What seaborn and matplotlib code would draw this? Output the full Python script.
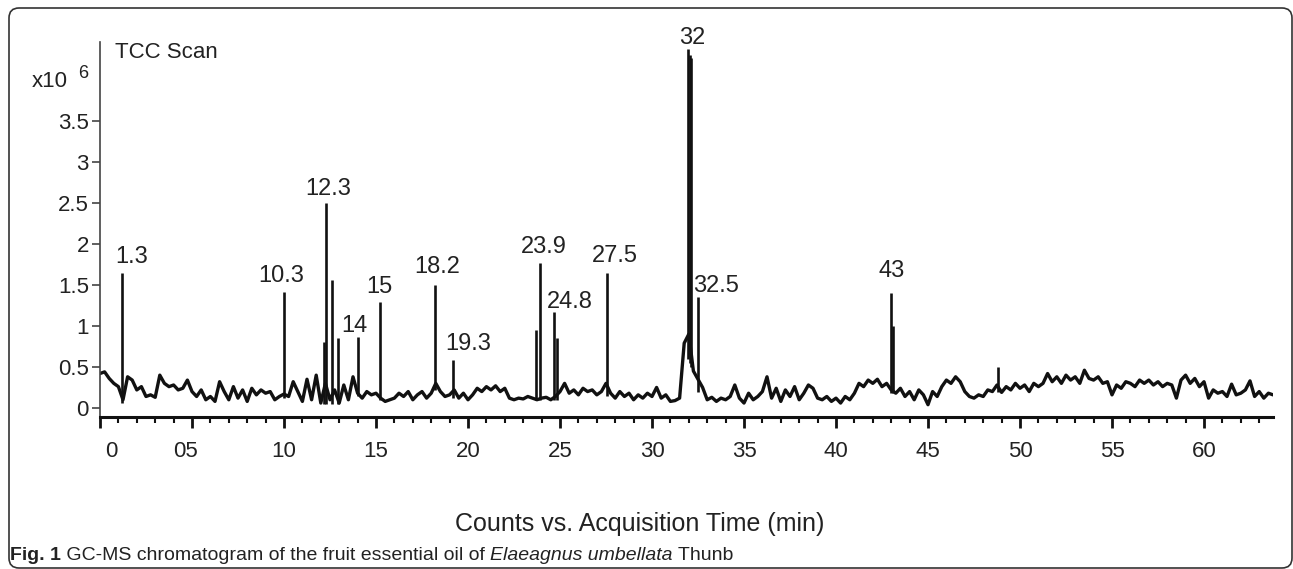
import numpy as np
import pandas as pd
import matplotlib
matplotlib.use("Agg")
import matplotlib.pyplot as plt
import seaborn as sns
from matplotlib.patches import FancyBboxPatch
from matplotlib.ticker import MultipleLocator, FuncFormatter
from matplotlib.transforms import IdentityTransform, ScaledTranslation

# --- baseline trace, counts x10^6, one value every 0.25 min ---
baseline = [
    0.42, 0.44, 0.36, 0.30,  0.26, 0.10, 0.38, 0.34,  0.22, 0.26, 0.14, 0.16,  0.13, 0.40, 0.30, 0.26,
    0.28, 0.22, 0.24, 0.34,  0.20, 0.14, 0.22, 0.10,  0.14, 0.08, 0.32, 0.20,  0.10, 0.26, 0.12, 0.22,
    0.08, 0.24, 0.16, 0.22,  0.18, 0.20, 0.10, 0.14,  0.17, 0.14, 0.32, 0.20,  0.08, 0.35, 0.10, 0.40,
    0.06, 0.30, 0.10, 0.22,  0.06, 0.28, 0.10, 0.38,  0.18, 0.12, 0.20, 0.16,  0.18, 0.12, 0.08, 0.10,
    0.12, 0.18, 0.14, 0.20,  0.10, 0.16, 0.20, 0.12,  0.18, 0.30, 0.20, 0.14,  0.16, 0.22, 0.12, 0.18,
    0.10, 0.16, 0.24, 0.20,  0.26, 0.22, 0.27, 0.20,  0.24, 0.12, 0.10, 0.12,  0.11, 0.14, 0.12, 0.10,
    0.12, 0.13, 0.10, 0.14,  0.20, 0.30, 0.18, 0.22,  0.16, 0.24, 0.20, 0.22,  0.16, 0.20, 0.30, 0.18,
    0.12, 0.20, 0.14, 0.18,  0.10, 0.16, 0.12, 0.18,  0.14, 0.25, 0.12, 0.16,  0.08, 0.09, 0.12, 0.79,
    0.90, 0.45, 0.35, 0.25,  0.10, 0.13, 0.08, 0.12,  0.10, 0.14, 0.28, 0.12,  0.06, 0.18, 0.10, 0.14,
    0.20, 0.38, 0.12, 0.24,  0.08, 0.22, 0.14, 0.26,  0.10, 0.18, 0.28, 0.24,  0.12, 0.10, 0.14, 0.08,
    0.12, 0.06, 0.14, 0.10,  0.18, 0.30, 0.26, 0.34,  0.30, 0.35, 0.26, 0.30,  0.22, 0.18, 0.24, 0.14,
    0.20, 0.10, 0.22, 0.16,  0.04, 0.20, 0.14, 0.26,  0.34, 0.30, 0.38, 0.32,  0.20, 0.14, 0.12, 0.16,
    0.14, 0.22, 0.20, 0.28,  0.19, 0.26, 0.22, 0.30,  0.24, 0.28, 0.20, 0.30,  0.26, 0.30, 0.42, 0.32,
    0.38, 0.30, 0.40, 0.34,  0.38, 0.30, 0.46, 0.36,  0.34, 0.38, 0.30, 0.32,  0.16, 0.28, 0.24, 0.32,
    0.30, 0.26, 0.34, 0.30,  0.34, 0.28, 0.32, 0.26,  0.30, 0.28, 0.12, 0.34,  0.40, 0.30, 0.36, 0.26,
    0.32, 0.12, 0.22, 0.18,  0.20, 0.14, 0.29, 0.16,  0.18, 0.22, 0.33, 0.14,  0.20, 0.12, 0.18, 0.16,
]
time_min = np.arange(len(baseline)) * 0.25

# --- sharp peaks: retention time (min), foot and apex (x10^6) ---
peak_times = [1.2, 10.0, 12.2, 12.28, 12.6, 12.95, 14.0, 15.2, 18.2, 19.2, 23.7, 23.9,
              24.7, 24.85, 27.55, 31.95, 32.05, 32.1, 32.5, 43.0, 43.1, 48.8]
peak_bases = [0.06, 0.12, 0.05, 0.05, 0.05, 0.05, 0.15, 0.10, 0.22, 0.12, 0.10, 0.10,
              0.10, 0.10, 0.15, 0.60, 0.55, 0.50, 0.20, 0.18, 0.18, 0.20]
peak_heights = [1.65, 1.41, 0.80, 2.50, 1.56, 0.85, 0.86, 1.29, 1.50, 0.58, 0.95, 1.77,
                1.17, 0.85, 1.65, 4.37, 4.30, 4.27, 1.35, 1.40, 1.00, 0.50]
peak_labels = ["1.3", "10.3", "", "12.3", "", "", "14", "15", "18.2", "19.3", "", "23.9",
               "24.8", "", "27.5", "32", "", "", "32.5", "43", "", ""]

# label placement relative to apex, in pixels (layout only)
label_dx = [10, -3, 0, 2, 0, 0, -3, 0, 2, 15, 0, 4, 15, 0, 8, 4, 0, 0, 18, 0, 0, 0]
label_gap = [10, 10, 0, 8, 0, 0, 5, 9, 12, 10, 0, 10, 4, 0, 11, 5, 0, 0, 5, 16, 0, 0]

x_ticks = list(range(0, 61, 5))
x_tick_labels = ["0", "05", "10", "15", "20", "25", "30", "35", "40", "45", "50", "55", "60"]

sns.set_theme(style="white")
plt.rcParams['font.family'] = ['Liberation Sans', 'DejaVu Sans']

W, H = 1293, 569
fig = plt.figure(figsize=(W / 100, H / 100), dpi=100)
ax = fig.add_axes([100 / W, 152 / H, 1173 / W, 375 / H])

ink = "#111111"
trace = pd.DataFrame({"time": time_min, "counts": baseline})
sns.lineplot(data=trace, x="time", y="counts", ax=ax, color=ink, lw=2.4)
ax.vlines(peak_times, peak_bases, peak_heights, color=ink, lw=1.9)

for t, h, lab, dx, gap in zip(peak_times, peak_heights, peak_labels, label_dx, label_gap):
    if lab:
        ax.annotate(lab, xy=(t, h), xytext=(dx, gap), textcoords="offset pixels",
                    ha="center", va="baseline", fontsize=17, color="#222222")

ax.set_xlim(0, 63.75)
ax.set_ylim(-0.11, 4.46)
ax.set_xlabel("")
ax.set_ylabel("")

for side in ["top", "right"]:
    ax.spines[side].set_visible(False)
ax.spines["left"].set_linewidth(1.2)
ax.spines["left"].set_color("#444444")
ax.spines["bottom"].set_linewidth(2.2)
ax.spines["bottom"].set_color(ink)

ax.set_yticks([0, 0.5, 1, 1.5, 2, 2.5, 3, 3.5])
ax.yaxis.set_major_formatter(FuncFormatter(lambda v, p: f"{v:g}"))
ax.tick_params(axis="y", left=True, direction="out", length=6, width=1.2,
               color="#444444", pad=2, labelsize=16, labelcolor="#222222")

ax.set_xticks(x_ticks)
ax.set_xticklabels(x_tick_labels)
ax.xaxis.set_minor_locator(MultipleLocator(1))
ax.tick_params(axis="x", which="major", bottom=True, direction="out", length=8, width=2,
               color=ink, pad=9, labelsize=16, labelcolor="#222222")
ax.tick_params(axis="x", which="minor", bottom=True, direction="out", length=4, width=1.5,
               color=ink)
xl = ax.get_xticklabels()
xl[0].set_transform(xl[0].get_transform() + ScaledTranslation(11 / 100, 0, fig.dpi_scale_trans))
xl[1].set_transform(xl[1].get_transform() + ScaledTranslation(-7 / 100, 0, fig.dpi_scale_trans))
ax.grid(False)

# header texts
fig.text(115 / W, (H - 58) / H, "TCC Scan", fontsize=16, color="#222222", va="baseline")
fig.text(32 / W, (H - 87) / H, "x10", fontsize=16, color="#222222", va="baseline")
fig.text(78 / W, (H - 78) / H, "6", fontsize=13, color="#222222", va="baseline")

fig.text(640 / W, (H - 531) / H, "Counts vs. Acquisition Time (min)", fontsize=18,
         color="#222222", ha="center", va="baseline")

# caption, pieced together: bold / plain / italic / plain
fig.canvas.draw()
renderer = fig.canvas.get_renderer()
cx = 10
cy = 9
parts = [("Fig. 1", "bold", "normal"),
         (" GC-MS chromatogram of the fruit essential oil of ", "normal", "normal"),
         ("Elaeagnus umbellata", "normal", "italic"),
         (" Thunb", "normal", "normal")]
for txt, weight, style in parts:
    t = fig.text(cx / W, cy / H, txt, fontsize=14, color="#222222", va="baseline",
                 fontweight=weight, fontstyle=style)
    bb = t.get_window_extent(renderer)
    cx = bb.x1

# rounded frame around the whole figure
frame = FancyBboxPatch((9, 1), 1283, 560, boxstyle="round,pad=0,rounding_size=10",
                       transform=IdentityTransform(), fill=False, ec="#333333", lw=1.2)
fig.patches.append(frame)

fig.savefig("out.png", dpi=100)
